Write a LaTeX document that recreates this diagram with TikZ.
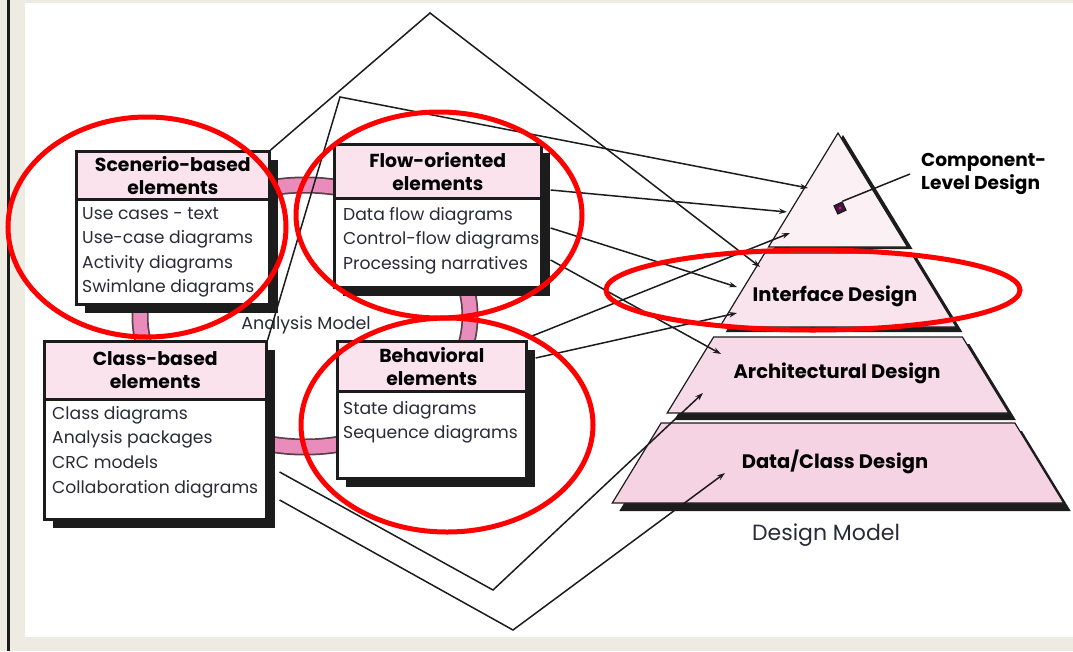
\documentclass[tikz,border=0pt]{standalone}
\usepackage{fontspec}
\setmainfont{Poppins}
\usetikzlibrary{arrows.meta,shadows,calc}

\definecolor{paper}{HTML}{EEEBE2}
\definecolor{hdrpink}{HTML}{FBE3EE}
\definecolor{ringpink}{HTML}{E98CBB}
\definecolor{ringedge}{HTML}{5A4048}
\definecolor{ink}{HTML}{1C1C1C}
\definecolor{listink}{HTML}{2A2A38}
\definecolor{layA}{HTML}{FBF0F4}
\definecolor{layB}{HTML}{F9E4EE}
\definecolor{layC}{HTML}{F7DAE7}
\definecolor{layD}{HTML}{F5D3E3}
\definecolor{markred}{HTML}{FF0000}

\tikzset{
  boxbody/.style={draw=ink, line width=2.6, fill=white, inner sep=0, anchor=north west,
    drop shadow={shadow xshift=9pt, shadow yshift=-9pt, fill=ink, opacity=1}},
  boxhead/.style={draw=ink, line width=2.6, fill=hdrpink, inner sep=0, anchor=north west,
    align=center, font=\fontsize{18.8}{23.5}\selectfont\bfseries},
  listtext/.style={anchor=north west, inner sep=0, align=left, text=listink,
    font=\fontsize{17.2}{24.6}\selectfont},
  layerlabel/.style={inner sep=0, font=\fontsize{19.5}{23}\selectfont\bfseries},
  conn/.style={draw=ink, line width=1.5, line join=miter},
  tip/.style={-{Stealth[length=8,width=5.5]}},
  redmark/.style={draw=markred, line width=5},
}

\begin{document}
\begin{tikzpicture}[x=1pt,y=-1pt]
\useasboundingbox (0,0) rectangle (1073,651);

% page frame
\fill[paper] (0,0) rectangle (1073,651);
\fill[white] (25,3) rectangle (1073,637);
\fill[ink] (7,0) rectangle (9.6,651);

% pink ring joining the four analysis elements
\draw[ringedge, line width=17] (305,316) ellipse [x radius=165, y radius=131];
\draw[ringpink, line width=13.5] (305,316) ellipse [x radius=165, y radius=131];
\node[font=\fontsize{17.5}{20}\selectfont, text=listink, inner sep=0] (am) at (306,325) {Analysis Model};

% scenario-based elements
\node[boxbody, minimum width=193, minimum height=153] (scen) at (75,150) {};
\node[boxhead, minimum width=193, minimum height=48] (scenh) at (75,150) {Scenerio-based\\elements};
\node[listtext] (scenl) at (82,207) {Use cases - text\\Use-case diagrams\\Activity diagrams\\Swimlane diagrams};

% flow-oriented elements
\node[boxbody, minimum width=207, minimum height=143] (flow) at (333,143) {};
\node[boxhead, minimum width=207, minimum height=54] (flowh) at (333,143) {Flow-oriented\\elements};
\node[listtext] (flowl) at (343,207) {Data flow diagrams\\Control-flow diagrams\\Processing narratives};

% class-based elements
\node[boxbody, minimum width=222, minimum height=178] (cls) at (43,340) {};
\node[boxhead, minimum width=222, minimum height=58] (clsh) at (43,340) {Class-based\\elements};
\node[listtext] (clsl) at (52,406) {Class diagrams\\Analysis packages\\CRC models\\Collaboration diagrams};

% behavioral elements
\node[boxbody, minimum width=189, minimum height=137] (beh) at (336,340) {};
\node[boxhead, minimum width=189, minimum height=50] (behh) at (336,340) {Behavioral\\elements};
\node[listtext] (behl) at (343,401) {State diagrams\\Sequence diagrams};

% design model pyramid: shadows first, then the four layers
\fill[ink] (843,135) -- (912.5,249) -- (773.5,249) -- cycle;
\fill[ink] (770.8,258) -- (917.2,258) -- (962.3,332) -- (725.7,332) -- cycle;
\fill[ink] (720.6,344) -- (969.4,344) -- (1015.8,420) -- (674.2,420) -- cycle;
\fill[ink] (668.1,431) -- (1021.9,431) -- (1070.7,511) -- (619.3,511) -- cycle;
\filldraw[fill=layA, draw=ink, line width=1.2] (838,133) -- (907.5,247) -- (768.5,247) -- cycle;
\filldraw[fill=layB, draw=ink, line width=1.2] (764.8,253) -- (911.2,253) -- (956.3,327) -- (719.7,327) -- cycle;
\filldraw[fill=layC, draw=ink, line width=1.2] (713.6,337) -- (962.4,337) -- (1008.8,413) -- (667.2,413) -- cycle;
\filldraw[fill=layD, draw=ink, line width=1.2] (661.1,423) -- (1014.9,423) -- (1063.7,503) -- (612.3,503) -- cycle;

\node[layerlabel] (intf) at (835,296) {Interface Design};
\node[layerlabel] (arch) at (837,373) {Architectural Design};
\node[layerlabel] (datac) at (835,462) {Data/Class Design};
\node[font=\fontsize{22}{26}\selectfont, text=listink, inner sep=0] (dm) at (826,535) {Design Model};
\node[layerlabel, align=left, anchor=west, font=\fontsize{18.6}{23}\selectfont\bfseries] (comp) at (921,174) {Component-\\Level Design};

% component marker
\node[draw=ink, fill=ink!85!magenta, line width=1.2, minimum size=9, inner sep=0, rotate=25] (cmark) at (840,208) {};
\fill[magenta] (cmark.center) circle (1.6);
\draw[conn] (cmark.north east) -- ($(comp.west)+(-11,0)$);

% end points of the mapping lines
\coordinate (apex) at (430,13);
\coordinate (bend) at (340,97);
\coordinate (vA) at (493,590);
\coordinate (vB) at (513,630);
\coordinate (tIntA) at (760,267);
\coordinate (tCompA) at (808,188);
\coordinate (tCompB) at (787,212);
\coordinate (tIntB) at (737,287);
\coordinate (tArchA) at (721,354);
\coordinate (tCompC) at (790,233);
\coordinate (tIntC) at (737,313);
\coordinate (tArchB) at (703,393);
\coordinate (tData) at (725,473);

% mapping lines from analysis elements to design layers
\draw[conn, tip] (scen.north east) -- (apex) -- (tIntA);
\draw[conn, tip] (cls.north east) -- (bend) -- (tCompA);
\draw[conn, tip] ($(flow.north east)+(8,47)$) -- (tCompB);
\draw[conn, tip] ($(flow.north east)+(8,85)$) -- (tIntB);
\draw[conn, tip] ($(flow.north east)+(8,117)$) -- (tArchA);
\draw[conn, tip] ($(beh.north east)+(2,-3)$) -- (tCompC);
\draw[conn, tip] ($(beh.north east)+(8,18)$) -- (tIntC);
\draw[conn, tip] ($(cls.north east)+(12,132)$) -- (vA) -- (tArchB);
\draw[conn, tip] ($(cls.north east)+(12,160)$) -- (vB) -- (tData);

% red highlight ellipses
\draw[redmark] (147,227) ellipse [x radius=139, y radius=110];
\draw[redmark] (439,215) ellipse [x radius=143, y radius=103];
\draw[redmark] (447,425) ellipse [x radius=146, y radius=107];
\draw[redmark] (813,290) ellipse [x radius=207, y radius=40];
\end{tikzpicture}
\end{document}
